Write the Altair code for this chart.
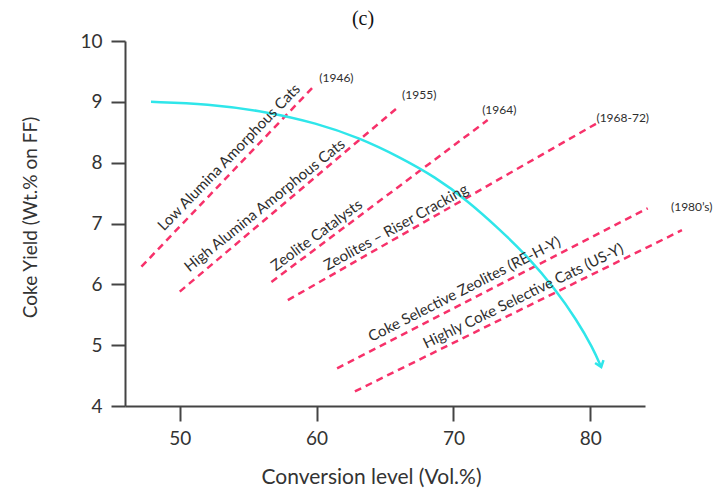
import altair as alt
import pandas as pd

# ---- data ----
line_x_start = [47.2, 50.0, 56.7, 57.9, 61.5, 62.8]
line_y_start = [6.29, 5.88, 6.04, 5.74, 4.62, 4.24]
line_x_end = [59.9, 66.0, 72.5, 80.5, 84.2, 86.7]
line_y_end = [9.28, 8.92, 8.70, 8.65, 7.25, 6.89]

labels = [
    "Low Alumina Amorphous  Cats",
    "High Alumina Amorphous  Cats",
    "Zeolite Catalysts",
    "Zeolites \u2013 Riser Cracking",
    "Coke Selective Zeolites (RE-H-Y)",
    "Highly Coke Selective Cats (US-Y)",
]
label_x = [53.6, 56.2, 60.0, 65.8, 70.8, 75.1]
label_y = [8.09, 7.30, 6.81, 6.94, 5.92, 5.81]
label_angle = [314, 321, 323.5, 331, 333, 334]

years = ["(1946)", "(1955)", "(1964)", "(1968-72)", "(1980\u2019s)"]
year_x = [60.2, 66.25, 72.1, 80.45, 85.9]
year_y = [9.39, 9.11, 8.86, 8.73, 7.27]

curve_x = [47.9, 52.0, 56.3, 60.0, 63.1, 66.0, 68.7, 71.0, 73.3, 75.5, 77.4, 79.0, 80.2, 80.8]
curve_y = [9.00, 8.97, 8.84, 8.65, 8.41, 8.10, 7.76, 7.38, 6.92, 6.44, 5.93, 5.42, 4.95, 4.64]

x_ticks = [50, 60, 70, 80]
y_ticks = [4, 5, 6, 7, 8, 9, 10]

RED = "#f7316a"
CYAN = "#2fe6ea"
FONT = "Lato"

lines_df = pd.DataFrame({"x": line_x_start, "y": line_y_start,
                         "x2": line_x_end, "y2": line_y_end})
labels_df = pd.DataFrame({"x": label_x, "y": label_y, "t": labels, "a": label_angle})
years_df = pd.DataFrame({"x": year_x, "y": year_y, "t": years})
curve_df = pd.DataFrame({"x": curve_x, "y": curve_y, "o": list(range(len(curve_x)))})
arrow_df = curve_df.tail(1)

xs = alt.Scale(domain=[46, 84], nice=False, zero=False)
ys = alt.Scale(domain=[4, 10], nice=False, zero=False)

xenc = alt.X("x:Q", scale=xs, axis=alt.Axis(
    values=x_ticks, title="Conversion level (Vol.%)", grid=False, format="d",
    tickSize=15, labelPadding=8, titleX=246, titleY=71, titleBaseline="middle",
    titleFontSize=21,
))
yenc = alt.Y("y:Q", scale=ys, axis=alt.Axis(
    values=y_ticks, title="Coke Yield (Wt.% on FF)", grid=False, format="d",
    tickSize=14, labelPadding=9, titleX=-95, titleY=176, titleAngle=270,
    titleBaseline="middle", titleAlign="center", titleFontSize=19,
))

rules = alt.Chart(lines_df).mark_rule(
    color=RED, strokeWidth=2.5, strokeDash=[7, 5]
).encode(x=xenc, y=yenc, x2="x2:Q", y2="y2:Q")

curve = alt.Chart(curve_df).mark_line(
    color=CYAN, strokeWidth=2.5, interpolate="basis"
).encode(x="x:Q", y="y:Q", order="o:Q")

arrow = alt.Chart(arrow_df).mark_point(
    shape="M -0.75 -1 L 0 0 L 0.75 -1", filled=False, stroke=CYAN,
    strokeWidth=2.5, size=140, angle=341, opacity=1,
).encode(x="x:Q", y="y:Q")

texts = alt.Chart(labels_df).mark_text(
    font=FONT, fontSize=15, color="#2e2e2e", align="center", baseline="middle"
).encode(x="x:Q", y="y:Q", text="t:N", angle=alt.Angle("a:Q", scale=None))

yrs = alt.Chart(years_df).mark_text(
    font=FONT, fontSize=12, color="#2e2e2e", align="left", baseline="middle"
).encode(x="x:Q", y="y:Q", text="t:N")

chart = alt.layer(rules, curve, arrow, texts, yrs).properties(
    width=520, height=365,
    autosize=alt.AutoSizeParams(type="none"),
    padding={"left": 125, "top": 41, "right": 79, "bottom": 86},
    title=alt.TitleParams("(c)", font="Liberation Serif", fontSize=20,
                          fontWeight="normal", color="#111", anchor="middle",
                          dx=-22, offset=3),
).configure_view(stroke=None).configure_axis(
    domainColor="#444", domainWidth=2, tickColor="#444", tickWidth=2,
    labelFont=FONT, labelFontSize=19, labelColor="#333",
    titleFont=FONT, titleColor="#333", titleFontWeight="normal",
)

chart.save("out.html", embed_options={"renderer": "svg", "actions": False})
